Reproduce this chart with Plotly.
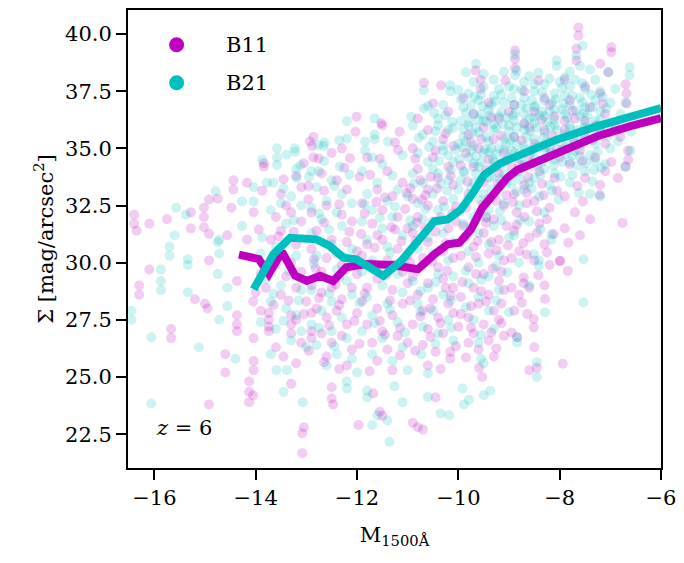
import plotly.graph_objects as go

# ---- scatter clouds (approximate reading of the reference) ----
b11_pts = [
    (-16.4,32.1),(-16.4,31.7),(-16.35,31.4),(-16.1,31.7),(-16.1,29.7),(-16.3,29.0),(-16.3,28.6),
    (-15.75,31.9),(-15.67,27.1),(-15.67,26.7),(-15.28,32.2),(-15.28,31.5),(-15.02,32.4),(-15.02,32.0),
    (-15.02,31.55),(-14.92,32.76),(-14.92,31.26),(-14.92,30.1),(-15.2,28.4),(-15.0,28.2),(-14.95,28.0),
    (-14.75,32.8),(-14.56,31.2),(-14.48,32.4),(-14.44,33.6),(-14.44,33.2),(-14.37,29.2),(-14.37,27.7),
    (-14.37,27.0),(-14.37,27.3),(-14.6,26.0),(-14.6,25.2),(-14.92,23.8),(-14.17,33.5),(-14.17,31.0),
    (-14.04,32.2),(-14.04,26.7),(-14.04,25.7),(-14.04,25.3),(-14.13,24.8),(-14.13,24.35),(-14.05,24.2),
    (-14.13,23.9),(-14.05,28.3),(-14.0,28.7),
    (-13.84,34.35),(-13.84,34.2),(-13.87,33.15),(-13.5,33.0),(-13.2,33.8),(-13.1,33.3),(-13.4,32.5),
    (-13.94,31.45),(-13.6,32.0),(-13.3,32.2),(-13.1,31.8),(-13.7,31.0),(-13.5,31.4),(-13.2,30.8),
    (-13.9,29.5),(-13.6,29.9),(-13.3,30.0),(-13.1,29.6),(-13.8,28.9),(-13.5,28.6),(-13.2,28.9),(-13.0,28.3),
    (-13.9,27.9),(-13.74,27.8),(-13.74,27.5),(-13.74,27.2),(-13.74,27.0),(-13.3,27.7),(-13.3,27.3),
    (-13.3,26.9),(-13.2,27.5),(-13.1,26.5),(-12.9,27.8),(-12.9,27.0),(-12.9,26.7),(-13.6,26.3),(-13.45,25.9),
    (-13.2,25.6),(-13.3,24.7),(-13.08,22.54),(-13.08,21.67),(-13.05,22.8),
    (-12.93,35.3),(-12.86,35.5),(-12.89,35.1),(-12.76,34.56),(-12.86,34.6),(-12.5,34.8),(-12.14,34.57),
    (-12.96,33.35),(-12.96,32.77),(-12.7,33.9),(-12.4,33.6),(-12.2,33.2),(-12.01,36.38),(-12.03,35.73),
    (-12.3,35.0),(-12.9,32.2),(-12.6,32.5),(-12.3,32.1),(-12.1,31.8),(-12.8,31.4),(-12.5,31.0),(-12.2,30.9),
    (-12.9,30.6),(-12.6,30.2),(-12.3,29.9),(-12.0,30.5),(-12.9,29.0),(-12.7,28.7),(-12.5,28.9),(-12.3,28.4),
    (-12.1,28.9),(-12.8,28.0),(-12.6,27.6),(-12.4,27.9),(-12.2,27.3),(-12.0,27.8),(-12.7,26.9),(-12.5,26.5),
    (-12.3,26.8),(-12.1,26.2),(-12.6,25.9),(-12.2,25.5),(-12.5,24.55),(-12.5,24.06),(-12.47,23.8),(-11.97,22.9),
    (-11.52,36.1),(-11.5,36.0),(-11.16,35.73),(-11.19,34.93),(-11.74,33.84),(-11.8,34.6),(-11.4,34.0),
    (-11.1,33.5),(-11.6,33.2),(-11.3,32.9),(-11.9,32.6),(-11.5,32.3),(-11.2,32.0),(-11.7,31.7),(-11.0,31.5),
    (-11.8,30.8),(-11.5,31.0),(-11.2,30.6),(-11.9,30.3),(-11.4,30.1),(-11.1,29.6),(-11.6,29.3),(-11.8,28.9),
    (-11.3,28.8),(-11.0,29.1),(-11.9,28.3),(-11.6,28.0),(-11.3,27.7),(-11.1,28.2),(-11.8,27.3),(-11.5,27.0),
    (-11.2,26.8),(-11.7,26.5),(-11.4,26.2),(-11.0,26.5),(-11.6,25.7),(-11.3,25.3),(-11.68,24.28),(-11.55,23.48),
    (-11.5,23.3),
    (-10.68,37.87),(-10.34,37.76),(-10.5,36.96),(-10.8,36.3),(-10.2,36.6),(-10.6,35.8),(-10.3,35.4),
    (-10.9,35.0),(-10.1,35.1),(-10.5,34.6),(-10.2,34.2),(-10.8,34.1),(-10.4,33.7),(-10.6,33.2),(-10.1,33.4),
    (-10.9,32.8),(-10.6,32.5),(-10.3,32.7),(-10.8,32.0),(-10.5,31.8),(-10.2,31.5),(-10.9,31.3),(-10.6,30.9),
    (-10.3,30.5),(-10.1,30.2),(-10.7,30.2),(-10.4,29.8),(-10.9,29.4),(-10.6,29.1),(-10.3,29.3),(-10.1,28.9),
    (-10.8,28.6),(-10.5,28.4),(-10.2,28.2),(-10.7,27.9),(-10.4,27.6),(-10.1,27.8),(-10.9,27.3),(-10.6,27.1),
    (-10.3,26.9),(-10.0,27.2),(-10.7,26.4),(-10.45,26.1),(-10.16,25.8),(-10.16,26.1),(-10.45,24.1),
    (-10.9,23.0),(-10.8,22.8),(-10.7,22.7),(-10.6,25.5),
    (-9.66,38.4),(-9.56,38.0),(-9.56,37.6),(-9.9,37.2),(-9.4,37.0),(-9.7,36.5),(-9.2,36.3),(-9.5,35.9),
    (-9.8,35.6),(-9.3,35.4),(-9.6,35.0),(-9.1,34.8),(-9.4,34.5),(-9.7,34.2),(-9.2,33.9),(-9.07,37.97),
    (-9.5,33.5),(-9.8,33.0),(-9.4,32.8),(-9.1,32.5),(-9.6,32.2),(-9.3,31.9),(-9.9,31.6),(-9.5,31.3),
    (-9.2,31.0),(-9.7,30.7),(-9.4,30.4),(-9.1,30.1),(-9.8,29.8),(-9.5,29.5),(-9.2,29.2),(-9.7,28.9),
    (-9.4,28.6),(-9.1,28.8),(-9.6,28.2),(-9.3,27.9),(-9.8,27.6),(-9.5,27.3),(-9.2,27.5),(-9.7,26.9),
    (-9.4,26.6),(-9.1,26.8),(-9.6,26.2),(-9.3,25.9),(-9.59,25.4),(-9.53,25.0),(-9.8,26.5),
    (-8.88,39.28),(-8.88,38.9),(-8.88,38.5),(-8.42,37.97),(-8.7,37.5),(-8.3,37.2),(-8.9,36.9),(-8.5,36.6),
    (-8.1,36.4),(-8.7,36.1),(-8.3,35.8),(-8.9,35.5),(-8.5,35.2),(-8.2,35.0),(-8.6,34.7),(-8.8,34.3),
    (-8.4,34.0),(-8.1,33.7),(-8.7,33.4),(-8.9,33.0),(-8.5,32.7),(-8.2,32.4),(-8.7,32.0),(-8.4,31.7),
    (-8.9,31.4),(-8.6,31.1),(-8.3,30.8),(-8.8,30.5),(-8.71,29.35),(-8.71,29.1),(-8.5,30.1),(-8.2,29.9),
    (-8.29,28.41),(-8.64,27.76),(-8.51,27.54),(-8.51,27.17),(-8.8,28.6),(-8.6,28.9),(-8.84,26.74),
    (-8.5,26.3),(-8.45,25.4),(-8.6,25.3),(-8.9,27.9),(-8.3,29.0),(-8.0,30.07),
    (-7.63,40.29),(-7.63,39.93),(-7.67,39.35),(-7.67,38.84),(-7.9,38.0),(-7.5,37.7),(-7.2,37.4),(-7.8,37.1),
    (-7.4,36.8),(-7.1,36.5),(-7.7,36.3),(-7.3,36.0),(-7.9,35.8),(-7.5,35.5),(-7.1,35.2),(-7.6,34.9),
    (-7.3,34.6),(-7.8,34.3),(-7.1,34.0),(-7.5,33.7),(-7.04,38.33),(-7.2,38.7),(-7.21,32.97),(-7.54,32.68),
    (-7.84,29.64),(-7.99,30.07),(-7.83,30.87),(-7.94,25.58),(-7.7,32.2),(-7.4,31.9),(-7.9,31.5),(-7.6,31.2),
    (-7.2,33.4),(-7.9,32.9),
    (-6.98,39.42),(-6.98,39.2),(-6.68,37.4),(-6.68,36.96),(-6.65,34.9),(-6.65,34.5),(-6.7,34.2),(-6.85,33.7),
    (-6.98,34.4),(-6.76,31.74),(-6.9,36.0),(-6.8,35.5),(-6.7,37.8),
    (-10.95,30.0),(-10.65,31.5),(-10.35,32.0),(-10.05,31.8),(-9.85,32.4),(-9.65,31.9),(-9.45,32.0),
    (-9.25,32.7),(-9.05,31.6),(-8.85,32.2),(-8.65,32.6),(-8.45,31.3),(-8.25,31.9),(-9.95,30.3),(-9.65,29.5),
    (-9.35,30.9),(-9.15,29.6),(-8.95,30.2),(-10.55,28.0),(-10.25,28.9),(-9.95,28.5),(-9.75,28.1),(-9.45,28.3),
    (-9.15,28.2),(-8.95,28.9),(-10.75,33.6),(-10.45,34.9),(-10.15,33.8),(-9.85,34.8),(-9.55,35.4),(-9.25,34.2),
    (-9.0,36.6),(-8.6,35.9),(-8.2,36.9),(-7.9,36.2),(-7.5,36.2),(-7.2,35.9),(-8.0,34.6),(-7.7,35.2),
    (-11.6,31.2),(-11.3,29.9),(-11.0,30.3),(-12.4,30.4),(-12.7,29.6),(-13.4,29.4),(-12.0,29.5),
    (-13.55,31.15),(-13.25,31.35),(-12.85,30.15),(-12.65,31.75),(-12.35,32.55),(-12.15,31.35),(-11.85,32.15),
    (-11.65,30.65),(-11.45,32.85),(-11.25,31.45),(-11.05,32.35),(-10.85,30.95),(-10.65,32.95),(-10.45,31.35),
    (-10.25,30.85),(-10.05,32.45),(-9.85,31.15),(-9.65,30.25),(-9.45,31.75),(-9.25,30.55),(-9.05,32.95),
    (-8.85,31.65),(-8.65,30.35),(-8.45,32.25),(-8.25,30.45),
    (-13.65,28.15),(-13.35,28.35),(-13.05,27.75),(-12.75,28.45),(-12.55,27.25),(-12.35,28.15),(-12.05,27.45),
    (-11.85,28.65),(-11.55,27.45),(-11.35,28.35),(-11.15,27.15),(-10.95,28.35),(-10.75,27.65),(-10.55,26.75),
    (-10.35,27.35),(-10.15,28.55),(-9.95,27.75),(-9.75,27.15),(-9.55,28.75),(-9.35,26.95),(-9.15,27.35),
    (-8.95,26.95),(-8.75,28.25),
    (-12.95,26.15),(-12.65,25.65),(-12.35,25.35),(-11.95,26.45),(-11.75,25.25),(-11.45,26.85),(-11.15,25.95),
    (-10.85,26.15),(-10.35,25.35),(-10.05,26.35),(-9.85,25.85),(-9.25,26.25),
    (-10.85,34.55),(-10.55,33.75),(-10.25,35.65),(-9.95,34.25),(-9.75,35.25),(-9.45,34.05),(-9.35,36.35),
    (-9.15,35.55),(-8.95,34.15),(-8.75,35.35),(-8.55,34.35),(-8.35,36.25),(-8.15,35.55),(-7.95,34.95),
    (-7.75,36.65),(-7.55,34.45),(-7.35,35.35),(-7.15,36.95),(-8.05,33.15),(-7.65,33.35),(-8.35,33.45),
    (-8.65,33.05),
    (-11.95,33.75),(-12.25,34.15),(-11.55,34.55),(-11.25,35.25),(-10.95,33.25),(-12.65,33.15),(-13.05,34.35),
    (-13.45,33.65),
    (-12.82,29.75),(-12.42,29.05),(-12.12,29.85),(-11.72,29.95),(-11.42,29.45),(-11.12,30.95),(-10.82,31.75),
    (-10.52,30.05),(-10.22,29.65),(-9.92,29.15),(-9.62,30.95),(-9.32,29.75),(-9.02,30.75),(-8.72,30.85),
    (-8.42,29.45),(-8.12,31.25),
    (-11.92,31.25),(-11.62,32.65),(-11.32,31.55),(-11.02,33.05),(-10.72,32.75),(-10.42,33.25),(-10.12,32.15),
    (-9.82,33.55),(-9.52,32.55),(-9.22,33.45),(-8.92,32.65),(-8.62,33.75),(-8.32,32.95),
]

b21_pts = [
    (-16.45,27.9),(-16.45,27.5),(-16.06,26.74),(-16.06,23.84),(-15.87,29.7),(-15.87,29.2),(-15.87,28.8),
    (-15.7,30.3),(-15.6,31.2),(-15.7,30.7),(-15.57,32.4),(-15.38,32.1),(-15.34,30.15),(-15.34,28.7),
    (-15.34,29.9),(-15.12,26.3),(-14.79,33.12),(-14.75,30.9),(-14.75,29.5),(-14.72,27.5),(-14.72,31.0),
    (-14.72,30.4),(-14.56,28.9),(-14.56,28.1),(-14.4,25.8),(-14.27,32.68),(-14.27,31.6),(-14.04,33.3),
    (-14.04,32.68),
    (-13.87,34.5),(-13.78,33.5),(-13.65,33.5),(-13.58,35.0),(-13.58,34.6),(-13.58,34.27),(-13.39,34.72),
    (-13.22,34.85),(-13.23,35.0),(-13.19,33.7),(-13.2,34.1),(-13.12,34.25),(-13.87,31.1),(-13.5,32.6),
    (-13.3,32.9),(-13.7,32.3),(-13.1,32.5),(-13.4,31.7),(-13.9,30.4),(-13.6,30.7),(-13.2,30.3),(-13.8,29.3),
    (-13.5,29.0),(-13.1,28.8),(-13.7,28.3),(-13.4,28.0),(-13.2,27.7),(-13.9,27.4),(-13.6,27.1),(-13.3,26.6),
    (-13.0,26.3),(-13.59,25.3),(-13.38,25.3),(-13.45,24.35),(-13.07,23.9),(-13.7,26.0),(-13.1,27.0),
    (-12.76,35.15),(-12.66,35.1),(-12.64,35.25),(-12.76,34.0),(-12.9,34.0),(-12.34,34.2),(-12.2,36.19),
    (-12.2,35.43),(-12.5,33.6),(-12.8,33.3),(-12.3,33.0),(-12.6,32.7),(-12.9,32.4),(-12.4,32.2),(-12.1,32.6),
    (-12.7,31.9),(-12.3,31.6),(-12.9,31.3),(-12.5,30.8),(-12.1,30.6),(-12.8,30.3),(-12.4,29.7),(-12.7,29.4),
    (-12.2,29.2),(-12.9,28.8),(-12.5,28.3),(-12.1,28.6),(-12.7,27.9),(-12.3,27.6),(-12.9,27.3),(-12.5,27.0),
    (-12.2,26.7),(-12.8,26.4),(-12.4,26.0),(-12.1,25.8),(-12.6,25.5),(-12.2,24.8),(-12.2,24.5),(-12.0,25.2),
    (-11.65,36.3),(-11.65,35.6),(-11.65,35.4),(-10.93,36.38),(-11.84,35.3),(-11.84,34.9),(-11.39,35.3),
    (-11.1,34.7),(-11.7,34.6),(-11.5,34.3),(-11.9,34.0),(-11.3,33.8),(-11.6,33.5),(-11.2,33.2),(-11.8,33.0),
    (-11.4,32.7),(-11.0,32.9),(-11.7,32.3),(-11.3,32.0),(-11.9,31.8),(-11.5,31.5),(-11.1,31.2),(-11.8,31.0),
    (-11.4,30.7),(-11.7,30.1),(-11.2,29.5),(-11.9,29.6),(-11.5,29.0),(-11.1,28.7),(-11.8,28.5),(-11.4,28.2),
    (-11.7,27.7),(-11.2,27.4),(-11.9,27.0),(-11.5,26.7),(-11.1,26.3),(-11.7,26.0),(-11.3,25.7),(-11.8,24.4),
    (-11.8,24.1),(-11.26,24.6),(-11.1,23.9),(-11.36,22.17),(-11.6,23.33),(-11.7,22.9),(-11.4,23.1),(-11.0,25.3),
    (-10.68,37.54),(-10.16,37.76),(-10.16,37.5),(-10.68,36.74),(-10.9,36.0),(-10.4,36.3),(-10.7,35.6),
    (-10.2,35.8),(-10.5,35.3),(-10.8,34.8),(-10.3,34.9),(-10.1,34.4),(-10.6,34.4),(-10.9,33.9),(-10.4,33.9),
    (-10.7,33.5),(-10.2,33.6),(-10.5,33.0),(-10.8,32.6),(-10.1,32.8),(-10.4,32.3),(-10.7,31.9),(-10.9,31.6),
    (-10.3,31.3),(-10.6,31.1),(-10.1,30.9),(-10.8,30.6),(-10.5,30.4),(-10.2,30.1),(-10.7,29.9),(-10.4,29.5),
    (-10.9,29.2),(-10.1,29.4),(-10.6,28.9),(-10.3,28.6),(-10.8,28.2),(-10.5,27.9),(-10.2,27.5),(-10.7,27.2),
    (-10.4,26.9),(-10.1,26.6),(-10.73,26.0),(-10.6,25.15),(-10.6,24.13),(-10.18,23.33),(-10.35,23.4),
    (-10.3,36.9),(-10.0,35.2),(-10.0,33.2),
    (-9.85,38.33),(-9.7,37.9),(-9.5,37.7),(-9.8,37.4),(-9.3,37.3),(-9.6,37.1),(-9.1,37.0),(-9.9,36.8),
    (-9.4,36.7),(-9.7,36.5),(-9.2,36.4),(-9.5,36.2),(-9.8,36.0),(-9.0,36.0),(-9.3,35.8),(-9.6,35.7),
    (-9.9,35.5),(-9.1,35.4),(-9.4,35.3),(-9.7,35.1),(-9.2,35.0),(-9.5,34.8),(-9.8,34.6),(-9.0,34.6),
    (-9.3,34.4),(-9.6,34.2),(-9.9,34.0),(-9.1,33.9),(-9.4,33.7),(-9.7,33.5),(-9.2,33.3),(-9.5,33.0),
    (-9.8,32.8),(-9.1,32.6),(-9.4,32.3),(-9.7,32.0),(-9.9,31.7),(-9.3,31.6),(-9.6,31.3),(-9.0,31.1),
    (-9.4,30.8),(-9.8,30.5),(-9.2,30.3),(-9.6,30.0),(-9.03,29.57),(-9.4,29.4),(-9.8,29.1),(-9.2,28.8),
    (-9.6,28.5),(-9.0,27.83),(-9.4,27.9),(-9.7,27.5),(-9.3,27.1),(-9.6,26.5),(-9.55,25.8),(-9.5,25.6),
    (-9.92,24.5),(-9.89,23.8),(-9.79,24.0),(-9.5,24.2),(-9.37,24.4),(-9.65,38.7),(-9.3,38.0),
    (-8.88,39.1),(-8.88,38.2),(-8.85,38.4),(-8.06,38.85),(-8.06,38.6),(-8.42,38.3),(-8.7,37.9),(-8.3,37.8),
    (-8.9,37.6),(-8.5,37.5),(-8.1,37.4),(-8.7,37.2),(-8.3,37.1),(-8.9,36.9),(-8.5,36.8),(-8.1,36.7),
    (-8.7,36.5),(-8.3,36.4),(-8.9,36.2),(-8.5,36.1),(-8.1,36.0),(-8.7,35.8),(-8.3,35.7),(-8.9,35.5),
    (-8.5,35.4),(-8.1,35.3),(-8.7,35.1),(-8.3,34.9),(-8.9,34.8),(-8.5,34.6),(-8.1,34.5),(-8.7,34.3),
    (-8.3,34.1),(-8.9,33.9),(-8.5,33.7),(-8.2,33.4),(-8.7,33.2),(-8.4,32.9),(-8.8,32.5),(-8.3,32.2),
    (-8.6,31.8),(-8.16,31.23),(-8.16,31.0),(-8.9,31.2),(-8.51,30.37),(-8.41,29.86),(-8.41,30.1),(-8.29,27.83),
    (-8.45,25.65),(-8.45,25.0),(-8.84,26.74),(-8.84,26.5),(-8.6,29.0),(-8.8,30.0),(-8.6,36.3),(-8.2,36.6),
    (-8.4,35.1),(-8.8,34.0),
    (-7.9,38.1),(-7.6,38.6),(-7.67,39.06),(-7.55,39.5),(-7.3,38.0),(-7.04,38.33),(-7.8,37.7),(-7.5,37.6),
    (-7.2,37.5),(-7.9,37.3),(-7.6,37.2),(-7.3,37.1),(-7.0,37.0),(-7.8,36.9),(-7.5,36.8),(-7.2,36.6),
    (-7.9,36.5),(-7.6,36.4),(-7.3,36.2),(-7.0,36.1),(-7.8,36.0),(-7.5,35.9),(-7.2,35.7),(-7.9,35.6),
    (-7.6,35.4),(-7.3,35.2),(-7.0,35.0),(-7.7,34.9),(-7.4,34.7),(-7.8,34.4),(-7.1,34.3),(-7.5,34.0),
    (-7.53,30.15),(-7.53,28.26),(-7.4,33.0),(-7.8,33.5),(-7.2,32.9),
    (-6.62,38.55),(-6.62,38.2),(-6.59,35.73),(-6.8,36.5),(-6.7,37.0),(-6.9,37.6),(-6.85,35.3),(-6.6,34.9),
    (-6.7,34.2),
    (-9.95,36.2),(-9.75,36.9),(-9.55,36.5),(-9.35,36.9),(-9.15,36.6),(-8.95,37.2),(-8.75,36.9),(-8.55,37.1),
    (-8.35,36.6),(-8.15,37.0),(-7.95,36.7),(-7.75,37.3),(-7.55,37.0),(-7.35,36.8),(-9.85,35.3),(-9.65,35.9),
    (-9.45,35.5),(-9.25,35.9),(-9.05,35.2),(-8.85,35.9),(-8.65,35.5),(-8.45,35.9),(-8.25,35.3),(-8.05,35.8),
    (-7.85,35.2),(-7.65,35.8),(-7.45,35.4),(-7.25,36.0),(-9.75,34.9),(-9.55,34.4),(-9.35,35.0),(-9.15,34.3),
    (-8.95,34.9),(-8.75,34.5),(-8.55,34.9),(-8.35,34.4),(-8.15,34.8),(-7.95,34.4),(-7.75,34.7),(-10.1,35.9),
    (-10.3,35.1),(-10.5,34.1),(-10.2,34.7),(-10.4,36.0),(-9.95,33.6),(-9.65,33.9),(-9.35,33.2),(-9.05,33.5),
    (-8.85,33.1),(-8.6,33.5),(-8.1,33.9),(-8.5,37.8),(-8.0,37.9),(-7.7,38.0),(-9.2,37.6),(-9.0,37.7),
    (-10.45,35.75),(-10.25,36.45),(-10.05,34.95),(-9.85,36.55),(-9.65,34.65),(-9.45,36.15),(-9.25,34.75),
    (-9.05,36.35),(-8.85,35.15),(-8.65,36.75),(-8.45,34.25),(-8.25,36.15),(-8.05,34.95),(-7.85,36.35),
    (-7.65,34.25),(-7.45,36.45),(-7.25,34.85),(-7.05,35.55),
    (-10.35,33.45),(-10.15,34.05),(-9.95,37.15),(-9.75,33.25),(-9.55,37.35),(-9.35,33.75),(-9.15,37.35),
    (-8.95,33.45),(-8.75,37.55),(-8.55,33.25),(-8.35,37.45),(-8.15,33.15),(-7.95,37.65),(-7.75,33.85),
    (-7.55,37.85),(-7.35,33.55),(-7.15,37.25),
    (-9.9,35.85),(-9.6,36.25),(-9.3,36.05),(-9.0,35.75),(-8.7,36.05),(-8.4,36.45),(-8.1,36.25),(-7.8,35.85),
    (-7.5,36.05),(-7.2,36.25),(-9.7,34.35),(-9.4,34.85),(-9.1,34.95),(-8.8,34.75),(-8.5,35.05),(-8.2,34.65),
    (-7.9,35.05),(-7.6,34.65),(-7.3,34.45),
    (-10.6,36.85),(-10.0,37.55),(-9.5,38.25),(-9.1,38.35),(-8.6,38.15),(-8.2,38.05),(-7.8,38.35),(-7.4,38.45),
    (-11.85,32.55),(-11.55,31.95),(-11.25,32.45),(-10.95,31.85),(-10.65,32.35),(-10.35,31.85),(-10.05,32.15),
    (-9.75,31.55),(-9.45,31.95),(-9.15,31.85),(-11.65,29.75),(-11.35,30.45),(-11.05,29.85),(-10.75,28.75),
    (-10.45,29.15),(-10.15,28.35),(-9.85,29.65),(-9.55,29.25),(-9.25,29.85),
    (-11.95,28.25),(-11.65,27.35),(-11.35,27.95),(-11.05,26.95),(-10.75,27.85),(-10.45,26.45),(-10.15,27.15),
    (-9.85,28.05),(-9.55,26.85),(-9.25,28.35),
    (-12.75,32.15),(-12.45,33.35),(-12.15,33.85),(-12.55,31.45),(-12.25,30.25),(-13.25,31.85),(-13.45,33.25),
    (-12.95,33.75),(-12.65,34.45),(-12.35,35.35),
    (-12.85,29.95),(-12.55,28.65),(-12.35,29.35),(-13.35,29.65),(-13.65,28.65),(-13.15,28.35),(-12.75,27.15),
    (-12.45,26.35),(-13.45,27.45),
    (-9.98,34.55),(-9.88,33.95),(-9.78,36.15),(-9.68,37.25),(-9.58,33.55),(-9.48,34.95),(-9.38,36.45),
    (-9.28,37.05),(-9.18,33.65),(-9.08,34.45),(-8.98,35.35),(-8.88,36.55),(-8.78,33.65),(-8.68,34.95),
    (-8.58,35.75),(-8.48,36.85),(-8.38,33.85),(-8.28,35.05),(-8.18,35.95),(-8.08,37.15),(-7.98,33.75),
    (-7.88,34.75),(-7.78,35.55),(-7.68,36.65),(-7.58,35.15),(-7.48,34.35),(-7.38,37.35),(-7.28,35.55),
    (-7.18,34.15),(-7.08,36.75),
    (-9.92,35.05),(-9.72,35.65),(-9.52,36.85),(-9.32,34.55),(-9.12,36.05),(-8.92,36.45),(-8.72,34.15),
    (-8.52,36.35),(-8.32,35.45),(-8.12,34.25),(-7.92,36.95),(-7.72,35.35),(-7.52,36.55),(-7.32,34.05),
    (-7.12,35.85),
    (-10.38,34.45),(-10.22,33.15),(-10.58,35.05),(-10.78,35.45),(-10.12,36.15),(-10.48,36.55),(-10.88,33.45),
    (-10.28,32.45),(-9.58,32.75),(-9.18,32.25),(-8.78,31.85),(-8.38,31.45),(-8.02,32.75),(-7.62,33.05),
]

# ---- median lines ----
b11_line_x = [-14.33,-13.94,-13.74,-13.48,-13.22,-12.99,-12.73,-12.47,-12.21,-11.82,-11.3,-10.8,
              -10.47,-10.21,-9.98,-9.75,-9.53,-9.29,-9.04,-8.84,-8.38,-7.8,-7.27,-6.62,-6.0]
b11_line_y = [30.35,30.16,29.5,30.48,29.43,29.2,29.43,29.2,29.8,29.94,29.9,29.71,
              30.37,30.8,30.87,31.45,32.39,33.1,33.7,34.05,34.5,35.09,35.52,35.96,36.32]
b21_line_x = [-14.04,-13.84,-13.65,-13.32,-13.06,-12.8,-12.54,-12.27,-12.01,-11.75,-11.48,-11.13,
              -10.8,-10.47,-10.21,-9.95,-9.69,-9.49,-9.17,-8.84,-8.06,-7.27,-6.62,-6.0]
b21_line_y = [28.84,29.64,30.37,31.09,31.09,31.02,30.73,30.22,30.15,29.78,29.42,30.07,
              30.94,31.81,31.89,32.32,33.12,33.84,34.35,34.64,35.38,35.96,36.39,36.76]

series_names = ["B11", "B21"]
MAG = "#BF00BF"
CYA = "#00BFBF"
FONT = "DejaVu Serif"
FS = 21

fig = go.Figure()
for pts, col, name in [(b11_pts, MAG, series_names[0]), (b21_pts, CYA, series_names[1])]:
    fig.add_trace(go.Scatter(
        x=[p[0] for p in pts], y=[p[1] for p in pts], mode="markers", name=name,
        marker=dict(size=10, color=col, opacity=0.2, line=dict(width=0)),
        showlegend=False, hoverinfo="skip"))

fig.add_trace(go.Scatter(x=b11_line_x, y=b11_line_y, mode="lines",
                         line=dict(color=MAG, width=8), showlegend=False))
fig.add_trace(go.Scatter(x=b21_line_x, y=b21_line_y, mode="lines",
                         line=dict(color=CYA, width=8), showlegend=False))

# legend drawn manually to match placement
shapes = []
annotations = []
for yy, col, name in [(0.924, MAG, series_names[0]), (0.8413, CYA, series_names[1])]:
    shapes.append(dict(type="circle", xref="paper", yref="paper",
                       xsizemode="pixel", ysizemode="pixel",
                       xanchor=0.0912, yanchor=yy, x0=-7.5, x1=7.5, y0=-7.5, y1=7.5,
                       fillcolor=col, line=dict(width=0)))
    annotations.append(dict(xref="paper", yref="paper", x=0.1806, y=yy, text=name,
                            showarrow=False, xanchor="left", yanchor="middle",
                            font=dict(family=FONT, size=FS, color="black")))
annotations.append(dict(xref="paper", yref="paper", x=0.048, y=0.087,
                        text="<i>z</i> = 6", showarrow=False, xanchor="left",
                        yanchor="middle", font=dict(family=FONT, size=FS, color="black")))

axis_common = dict(showline=True, linecolor="black", linewidth=2, mirror=True,
                   ticks="outside", ticklen=10, tickwidth=2, tickcolor="black",
                   showgrid=False, zeroline=False,
                   tickfont=dict(family=FONT, size=FS, color="black"))

fig.update_layout(
    width=684, height=563,
    margin=dict(l=128, r=19, t=8, b=95),
    paper_bgcolor="white", plot_bgcolor="white",
    shapes=shapes, annotations=annotations,
    xaxis=dict(range=[-16.52, -6.0], tickmode="array",
               tickvals=[-16, -14, -12, -10, -8, -6],
               title=dict(text="M<sub>1500Å</sub>", standoff=18,
                          font=dict(family=FONT, size=FS, color="black")),
               **axis_common),
    yaxis=dict(range=[21.02, 41.05], tickmode="array",
               tickvals=[22.5, 25.0, 27.5, 30.0, 32.5, 35.0, 37.5, 40.0],
               tickformat=".1f", ticksuffix="\u00a0\u00a0",
               title=dict(text="Σ [mag/arcsec<sup>2</sup>]", standoff=6,
                          font=dict(family=FONT, size=FS, color="black")),
               **axis_common),
)

fig.write_html("out.html")
